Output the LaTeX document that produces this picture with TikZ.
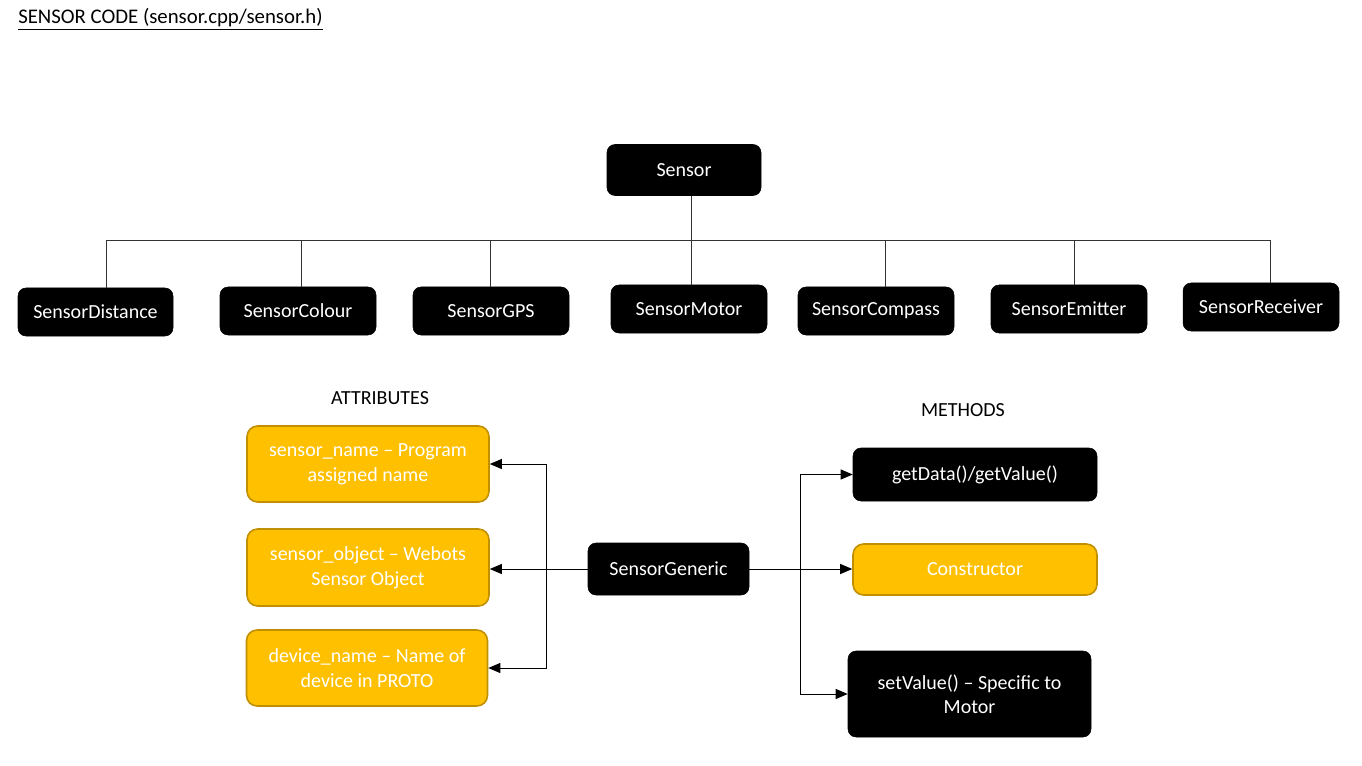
\documentclass[tikz,border=0pt]{standalone}
\usepackage{fontspec}
\setmainfont{Carlito}
\usetikzlibrary{arrows.meta,calc}
\definecolor{gold}{HTML}{FFC000}
\definecolor{golddark}{HTML}{C09000}
\begin{document}
\begin{tikzpicture}[x=0.75pt,y=-0.75pt,
  blk/.style={draw=black,fill=black,text=white,rounded corners=6pt,inner sep=0pt,align=center,
    font=\fontsize{15}{19.5}\selectfont},
  gbox/.style={draw=golddark,line width=1.2pt,fill=gold,text=white,rounded corners=8pt,inner sep=0pt,align=center,
    font=\fontsize{15}{19.5}\selectfont},
  lbl/.style={font=\fontsize{15}{18}\selectfont,inner sep=0pt},
  arr/.style={line width=0.75pt,-{Triangle[length=9pt,width=7.5pt]}},
  barr/.style={line width=0.75pt,{Triangle[length=9pt,width=7.5pt]}-{Triangle[length=9pt,width=7.5pt]}},
  tree/.style={line width=0.6pt,draw=black!80}]
\useasboundingbox (0,0) rectangle (1362,766);
% title
\node[lbl,anchor=west,font=\fontsize{15.6}{18}\selectfont] (title) at (18,19) {\underline{SENSOR CODE (sensor.cpp/sensor.h)}};
% root
\node[blk,minimum width=115.5pt,minimum height=38.25pt] (sensor) at (684,170) {Sensor};
% children
\node[blk,minimum width=116.25pt,minimum height=36pt] (dist) at (95.5,312) {SensorDistance};
\node[blk,minimum width=117pt,minimum height=36pt] (col) at (298,311) {SensorColour};
\node[blk,minimum width=117pt,minimum height=36pt] (gps) at (491,311) {SensorGPS};
\node[blk,minimum width=117pt,minimum height=36pt] (mot) at (689,309) {SensorMotor};
\node[blk,minimum width=117pt,minimum height=36pt] (comp) at (876,311) {SensorCompass};
\node[blk,minimum width=117pt,minimum height=36pt] (emit) at (1069,309) {SensorEmitter};
\node[blk,minimum width=117pt,minimum height=36pt] (recv) at (1261,307) {SensorReceiver};
% bus
\coordinate (b1) at (106,240);
\coordinate (b2) at (301,240);
\coordinate (b3) at (490,240);
\coordinate (b4) at (691,240);
\coordinate (b5) at (885,240);
\coordinate (b6) at (1074,240);
\coordinate (b7) at (1270,240);
\draw[tree] (b1) -- (b7);
\draw[tree] (b4 |- sensor.south) -- (b4 |- mot.north);
\draw[tree] (b1) -- (b1 |- dist.north);
\draw[tree] (b2) -- (b2 |- col.north);
\draw[tree] (b3) -- (b3 |- gps.north);
\draw[tree] (b5) -- (b5 |- comp.north);
\draw[tree] (b6) -- (b6 |- emit.north);
\draw[tree] (b7) -- (b7 |- recv.north);
% labels
\node[lbl] (attr) at (380,398) {ATTRIBUTES};
\node[lbl] (meth) at (963,410) {METHODS};
% attributes
\node[gbox,minimum width=181.5pt,minimum height=57pt] (nam) at (368,464) {\raisebox{-2pt}{\shortstack{sensor\_name – Program\\[3pt]assigned name}}};
\node[gbox,minimum width=181.5pt,minimum height=57.75pt] (obj) at (368,567.5) {\raisebox{-2pt}{\shortstack{sensor\_object – Webots\\[3pt]Sensor Object}}};
\node[gbox,minimum width=180.75pt,minimum height=57pt] (dev) at (367,668) {\raisebox{-2pt}{\shortstack{device\_name – Name of\\[3pt]device in PROTO}}};
% generic
\node[blk,minimum width=120.75pt,minimum height=39pt] (gen) at (668.5,569) {SensorGeneric};
% methods
\node[blk,minimum width=183pt,minimum height=39.75pt] (get) at (975,474.5) {getData()/getValue()};
\node[gbox,minimum width=183pt,minimum height=38.25pt] (con) at (975,569.5) {Constructor};
\node[blk,minimum width=182.25pt,minimum height=64.5pt] (set) at (969.5,694) {\raisebox{-2pt}{\shortstack{setValue() – Specific to\\[3pt]Motor}}};
% connectors
\coordinate (lt) at (546,0);
\coordinate (rt) at (800,0);
\draw[barr] (nam.east) -- (lt |- nam.east) -- (lt |- dev.east) -- (dev.east);
\draw[arr] (gen.west) -- (gen.west -| obj.east);
\draw[barr] (get.west) -- (rt |- get.west) -- (rt |- set.west) -- (set.west);
\draw[arr] (gen.east) -- (gen.east -| con.west);
\end{tikzpicture}
\end{document}
